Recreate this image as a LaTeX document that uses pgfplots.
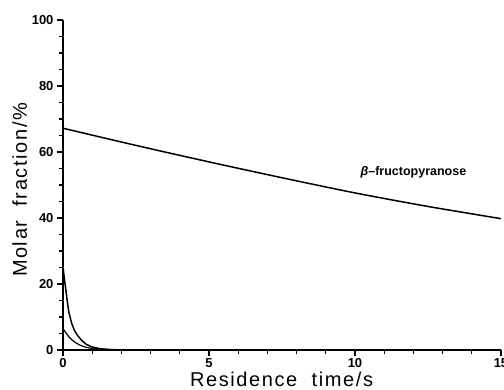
\documentclass[border=0pt]{standalone}
\usepackage{fontspec}
\setmainfont{Liberation Sans}
\newfontfamily\labelfont[LetterSpace=8]{Liberation Sans}
\usepackage{pgfplots}
\pgfplotsset{compat=1.18}

\begin{document}
\begin{tikzpicture}
\begin{axis}[
  at={(0,0)}, anchor=origin,
  scale only axis,
  width=438pt, height=330pt,
  xmin=0, xmax=15, ymin=0, ymax=100,
  axis lines*=left,
  axis line style={line width=1.5pt},
  xtick={0,5,10,15}, ytick={0,20,40,60,80,100},
  minor x tick num=4, minor y tick num=3,
  tick align=outside,
  major tick length=6pt, minor tick length=3.5pt,
  every tick/.style={black, line width=1.2pt},
  /pgf/number format/assume math mode=true,
  ticklabel style={font=\fontsize{13}{13}\selectfont\bfseries},
  xticklabel style={yshift=1pt},
  xlabel={Residence\ \ time/s},
  ylabel={Molar\ \ fraction/\%},
  label style={font=\fontsize{20}{20}\labelfont},
  xlabel style={at={(axis description cs:0.499,0)}, anchor=base, yshift=-36pt},
  ylabel style={at={(axis description cs:0,0.485)}, anchor=base, yshift=36pt},
  clip=false,
]
% beta-fructopyranose
\addplot[black, line width=1.5pt, smooth] coordinates {
  (0,67.2) (2.5,62.0) (5,57.0) (7.5,52.2) (10,47.6) (12.5,43.5) (15,39.8)
};
% fast-decaying species
\addplot[black, line width=1.5pt] coordinates {
  (0,25) (0.05,21.5) (0.1,18) (0.15,14.5) (0.2,11.5) (0.3,8) (0.4,5.8)
  (0.5,4.4) (0.65,2.8) (0.8,1.7) (1.0,0.9) (1.3,0.35) (1.7,0.1) (2.2,0) (15,0)
};
\addplot[black, line width=1.2pt] coordinates {
  (0,6.5) (0.1,5.2) (0.2,4.0) (0.3,3.1) (0.45,2.1) (0.6,1.4) (0.8,0.8)
  (1.0,0.45) (1.3,0.2) (1.7,0.05) (2.2,0) (15,0)
};
\node[font=\fontsize{12.5}{12.5}\selectfont\bfseries] at (axis cs:12.0,53.9) {\textit{β}–fructopyranose};
\end{axis}
\pgfresetboundingbox
\path[use as bounding box] (-63pt,-39pt) rectangle (441pt,350pt);
\end{tikzpicture}
\end{document}
